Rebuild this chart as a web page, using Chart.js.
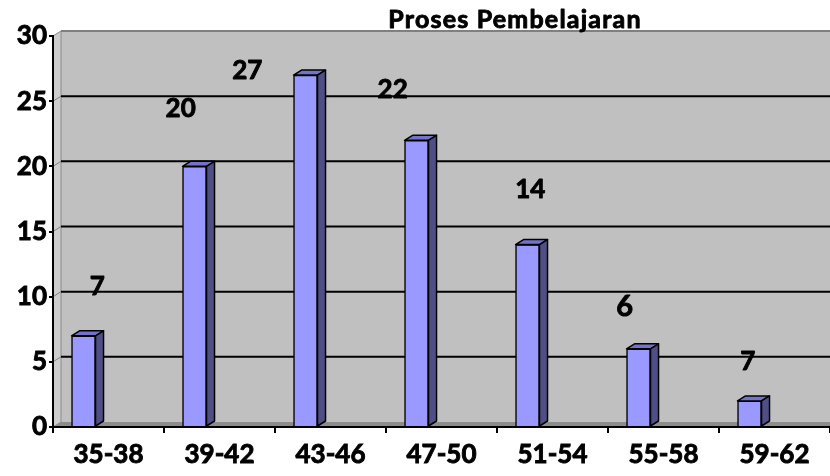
<!DOCTYPE html>
<html>
<head>
<meta charset="utf-8">
<title>Proses Pembelajaran</title>
<script src="https://cdn.jsdelivr.net/npm/chart.js@4.4.1/dist/chart.umd.min.js"></script>
<style>
  html, body { margin: 0; padding: 0; background: #fff; overflow: hidden; }
  #wrap { width: 830px; height: 476px; }
</style>
</head>
<body>
<div id="wrap"><canvas id="chart" width="830" height="476"></canvas></div>
<script>
const categories = ["35-38", "39-42", "43-46", "47-50", "51-54", "55-58", "59-62"];
const frequencies = [7, 20, 27, 22, 14, 6, 2];
const barLabels = ["7", "20", "27", "22", "14", "6", "7"];
const yTicks = [0, 5, 10, 15, 20, 25, 30];
const chartTitle = "Proses Pembelajaran";

// where the data labels sit in the original (category index, value units)
const labelSpots = [[-0.1, 10.8], [0.65, 24.45], [1.25, 27.35], [2.56, 25.85], [3.8, 18.2], [4.65, 9.2], [5.76, 5.05]];
const labelSizes = [26, 26, 26, 26, 26, 29, 26];

const FONT = "Lato, 'Open Sans', sans-serif";
const WEIGHT = "bold";
const STROKE = 0.9;            // thickens Lato bold towards the heavier original
const DX = 8, DY = 5;          // 3d depth
const BAR_SHIFT = 0.225;       // bars sit left of the category centre

const walls = {
    id: "walls",
    beforeDraw(chart) {
        const { ctx, chartArea: a } = chart;
        const y = chart.scales.y;
        const l = a.left, r = a.right, t = a.top, b = a.bottom;
        ctx.save();
        // back wall
        ctx.fillStyle = "#c0c0c0";
        ctx.fillRect(l + DX, t - DY, r - l - DX, b - t);
        // side wall
        ctx.beginPath();
        ctx.moveTo(l, t); ctx.lineTo(l + DX, t - DY); ctx.lineTo(l + DX, b - DY); ctx.lineTo(l, b);
        ctx.closePath();
        ctx.fillStyle = "#cdcdcd";
        ctx.fill();
        ctx.strokeStyle = "#8a8a8a";
        ctx.lineWidth = 1;
        ctx.stroke();
        // floor
        ctx.beginPath();
        ctx.moveTo(l, b); ctx.lineTo(l + DX, b - DY); ctx.lineTo(r, b - DY); ctx.lineTo(r, b);
        ctx.closePath();
        ctx.fillStyle = "#8c8c8c";
        ctx.fill();
        // top edge of back wall
        ctx.beginPath();
        ctx.moveTo(l + DX, t - DY); ctx.lineTo(r, t - DY);
        ctx.strokeStyle = "#808080";
        ctx.lineWidth = 2;
        ctx.stroke();
        // gridlines on the back wall
        yTicks.slice(1, -1).forEach(v => {
            const py = y.getPixelForValue(v);
            ctx.beginPath();
            ctx.moveTo(l, py); ctx.lineTo(l + DX, py - DY);
            ctx.strokeStyle = "#808080";
            ctx.lineWidth = 1;
            ctx.stroke();
            ctx.beginPath();
            ctx.moveTo(l + DX, py - DY); ctx.lineTo(r, py - DY);
            ctx.strokeStyle = "#000";
            ctx.lineWidth = 2;
            ctx.stroke();
        });
        ctx.restore();
    }
};

const bars3d = {
    id: "bars3d",
    afterDatasetsDraw(chart) {
        const { ctx } = chart;
        chart.getDatasetMeta(0).data.forEach(bar => {
            const { x, y, base, width } = bar.getProps(["x", "y", "base", "width"], true);
            const left = x - width / 2, right = x + width / 2;
            ctx.save();
            ctx.lineWidth = 1.5;
            ctx.strokeStyle = "#000";
            ctx.lineJoin = "round";
            // top face
            ctx.beginPath();
            ctx.moveTo(left, y); ctx.lineTo(left + DX, y - DY); ctx.lineTo(right + DX, y - DY); ctx.lineTo(right, y);
            ctx.closePath();
            ctx.fillStyle = "#7373cc";
            ctx.fill();
            ctx.stroke();
            // side face
            ctx.beginPath();
            ctx.moveTo(right, y); ctx.lineTo(right + DX, y - DY); ctx.lineTo(right + DX, base - DY); ctx.lineTo(right, base);
            ctx.closePath();
            ctx.fillStyle = "#4f4f85";
            ctx.fill();
            ctx.stroke();
            ctx.restore();
        });
    }
};

function boldText(ctx, txt, x, y) {
    ctx.fillText(txt, x, y);
    ctx.strokeText(txt, x, y);
}

const annotate = {
    id: "annotate",
    afterDraw(chart) {
        const { ctx } = chart;
        const x = chart.scales.x, y = chart.scales.y;
        ctx.save();
        ctx.fillStyle = "#000";
        ctx.strokeStyle = "#000";
        ctx.lineWidth = STROKE;
        ctx.lineJoin = "round";
        ctx.textAlign = "center";
        ctx.textBaseline = "middle";
        barLabels.forEach((txt, i) => {
            const [ci, v] = labelSpots[i];
            ctx.font = WEIGHT + " " + labelSizes[i] + "px " + FONT;
            boldText(ctx, txt, x.getPixelForDecimal((ci + 0.5) / categories.length), y.getPixelForValue(v));
        });
        ctx.font = WEIGHT + " 25px " + FONT;
        ctx.letterSpacing = "1.2px";
        ctx.textBaseline = "alphabetic";
        boldText(ctx, chartTitle, 515, 28);
        ctx.restore();
    }
};

new Chart(document.getElementById("chart"), {
    type: "bar",
    data: {
        labels: categories,
        datasets: [{
            data: frequencies.map((v, i) => ({ x: i, y: v })),
            xAxisID: "xb",
            backgroundColor: "#9999ff",
            borderColor: "#000",
            borderWidth: 1.5,
            barThickness: 24
        }]
    },
    options: {
        responsive: false,
        animation: false,
        layout: { padding: { top: 36, right: 0, left: 0, bottom: 0 } },
        plugins: { legend: { display: false }, tooltip: { enabled: false } },
        scales: {
            x: {
                type: "category",
                offset: true,
                grid: { offset: true, drawOnChartArea: false, tickLength: 6, color: "#000", lineWidth: 2 },
                border: { color: "#000", width: 2 },
                ticks: {
                    color: "#000", font: { family: FONT, size: 26, weight: WEIGHT }, padding: 6, maxRotation: 0,
                    textStrokeColor: "#000", textStrokeWidth: STROKE
                },
                afterFit(s) { s.height = 49; }
            },
            xb: {
                type: "linear",
                display: false,
                offset: false,
                grid: { offset: false },
                min: -0.5 + BAR_SHIFT,
                max: categories.length - 0.5 + BAR_SHIFT
            },
            y: {
                min: yTicks[0],
                max: yTicks[yTicks.length - 1],
                ticks: {
                    stepSize: 5, color: "#000", font: { family: FONT, size: 26, weight: WEIGHT }, padding: 2,
                    textStrokeColor: "#000", textStrokeWidth: STROKE
                },
                grid: { drawOnChartArea: false, tickLength: 4, color: "#000", lineWidth: 2 },
                border: { color: "#000", width: 2 },
                afterFit(s) { s.width = 53; }
            }
        }
    },
    plugins: [walls, bars3d, annotate]
});
</script>
</body>
</html>
